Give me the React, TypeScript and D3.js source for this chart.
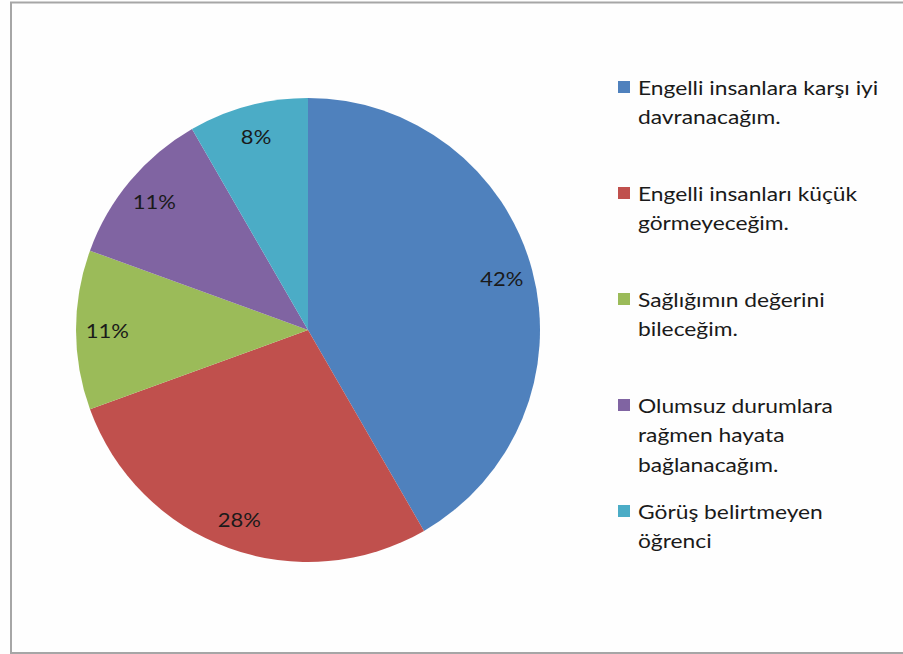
import React from "react";
import * as d3 from "d3";

const categories = [
  "Engelli insanlara karşı iyi davranacağım.",
  "Engelli insanları küçük görmeyeceğim.",
  "Sağlığımın değerini bileceğim.",
  "Olumsuz durumlara rağmen hayata bağlanacağım.",
  "Görüş belirtmeyen öğrenci",
];
const legendLines = [
  ["Engelli insanlara karşı iyi", "davranacağım."],
  ["Engelli insanları küçük", "görmeyeceğim."],
  ["Sağlığımın değerini", "bileceğim."],
  ["Olumsuz durumlara", "rağmen hayata", "bağlanacağım."],
  ["Görüş belirtmeyen", "öğrenci"],
];
// student counts (n = 36) -> 42%, 28%, 11%, 11%, 8%
const values = [15, 10, 4, 4, 3];
const colors = ["#4F81BD", "#C0504D", "#9BBB59", "#8064A2", "#4BACC6"];

const W = 903;
const H = 654;
const cx = 308;
const cy = 330;
const R = 232;
const FONT = "Lato, 'Open Sans', sans-serif";

export default function App() {
  const total = d3.sum(values);
  const pie = d3.pie<number>().sort(null).value((d) => d)(values);
  const arc = d3.arc<d3.PieArcDatum<number>>().innerRadius(0).outerRadius(R);
  const labelArc = d3
    .arc<d3.PieArcDatum<number>>()
    .innerRadius(R * 0.865)
    .outerRadius(R * 0.865);

  const legendY = d3
    .scalePoint<number>()
    .domain(d3.range(categories.length))
    .range([87, 511]);

  return (
    <svg
      width={W}
      height={H}
      style={{ position: "absolute", left: 0, top: 0, background: "#fff" }}
    >
      <rect x={0} y={0} width={W} height={H} fill="#fefefe" />
      <rect
        x={11}
        y={2.5}
        width={W + 10}
        height={650.5}
        fill="none"
        stroke="#a6a6a6"
        strokeWidth={2}
      />
      <g transform={`translate(${cx},${cy})`}>
        {pie.map((p, i) => (
          <path key={i} d={arc(p) || ""} fill={colors[i]} />
        ))}
        {pie.map((p, i) => {
          const [x, y] = labelArc.centroid(p);
          return (
            <g key={"l" + i} transform={`translate(${x},${y}) scale(1.1,1)`}>
              <text
                x={0}
                y={0}
                textAnchor="middle"
                dominantBaseline="central"
                fontFamily={FONT}
                fontSize={20}
                fill="#1a1a1a"
              >
                {`${Math.round((values[i] / total) * 100)}%`}
              </text>
            </g>
          );
        })}
      </g>
      <g>
        {legendLines.map((lines, i) => {
          const y0 = legendY(i) as number;
          return (
            <g key={"lg" + i}>
              <rect x={618} y={y0 - 6} width={12} height={12} fill={colors[i]} />
              <g transform="translate(638,0) scale(1.2,1)">
                {lines.map((t, j) => (
                  <text
                    key={j}
                    x={0}
                    y={y0 + j * 29.5}
                    dominantBaseline="central"
                    fontFamily={FONT}
                    fontSize={19}
                    fill="#1a1a1a"
                  >
                    {t}
                  </text>
                ))}
              </g>
            </g>
          );
        })}
      </g>
    </svg>
  );
}
